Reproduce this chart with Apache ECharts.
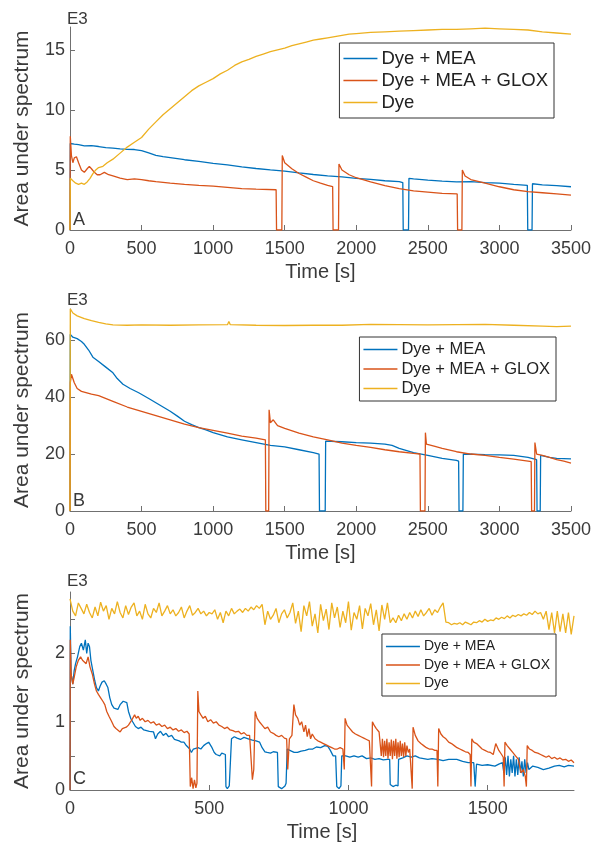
<!DOCTYPE html>
<html><head><meta charset="utf-8">
<script src="https://cdn.jsdelivr.net/npm/echarts@6/dist/echarts.min.js"></script>
<style>html,body{margin:0;padding:0;background:#fff}#c{width:594px;height:845px}</style>
</head><body><div id="c"></div>
<script>
const seriesNames = ['Dye + MEA', 'Dye + MEA + GLOX', 'Dye'];
const colors = ['#0072BD', '#D95319', '#EDB120'];
const ticksAB_x = [0, 500, 1000, 1500, 2000, 2500, 3000, 3500];
const ticksC_x = [0, 500, 1000, 1500];
const ticksA_y = [0, 5, 10, 15];
const ticksB_y = [0, 20, 40, 60];
const ticksC_y = [0, 0.5, 1, 1.5, 2, 2.5];
const labelsC_y = [0, 1, 2];

// Panel A
const A_mea = [[0,0],[2,7.2],[30,7.15],[60,7.1],[100,7.0],[150,7.02],[200,6.95],[250,6.85],[300,6.82],[350,6.75],[400,6.72],[450,6.7],[500,6.6],[550,6.42],[600,6.22],[650,6.1],[700,6.02],[800,5.85],[900,5.72],[1000,5.55],[1100,5.42],[1200,5.25],[1300,5.12],[1400,5.0],[1500,4.9],[1600,4.75],[1700,4.62],[1800,4.5],[1900,4.42],[2000,4.3],[2100,4.22],[2200,4.1],[2300,4.02],[2325,3.95],[2328,0],[2365,0],[2368,4.3],[2400,4.25],[2500,4.15],[2600,4.07],[2700,4.0],[2800,4.02],[2900,3.95],[3000,3.9],[3100,3.8],[3195,3.72],[3198,0],[3228,0],[3231,3.85],[3300,3.75],[3400,3.7],[3500,3.6]];
const A_glox = [[0,0],[2,7.8],[10,6.2],[20,5.6],[30,6.0],[45,6.1],[60,5.6],[80,5.0],[100,4.8],[120,5.1],[135,5.3],[150,5.1],[170,4.8],[190,4.6],[210,4.6],[240,4.8],[270,4.6],[300,4.5],[350,4.32],[400,4.2],[450,4.25],[500,4.2],[550,4.1],[600,4.02],[700,3.9],[800,3.8],[900,3.72],[1000,3.65],[1100,3.55],[1200,3.45],[1300,3.4],[1440,3.35],[1443,0],[1480,0],[1483,6.2],[1500,5.6],[1550,5.1],[1600,4.7],[1650,4.4],[1700,4.1],[1750,3.9],[1800,3.72],[1835,3.62],[1838,0],[1876,0],[1879,5.5],[1900,5.0],[1950,4.6],[2000,4.35],[2100,4.0],[2200,3.7],[2300,3.45],[2400,3.25],[2500,3.15],[2600,3.05],[2705,3.0],[2708,0],[2738,0],[2741,5.0],[2760,4.5],[2800,4.2],[2900,3.9],[3000,3.6],[3100,3.35],[3200,3.2],[3300,3.1],[3400,3.0],[3500,2.9]];
const A_dye = [[0,0],[2,4.3],[20,4.1],[40,3.9],[60,3.8],[80,3.9],[100,3.8],[120,4.0],[140,4.3],[160,4.7],[180,5.0],[200,5.2],[230,5.3],[260,5.6],[300,5.9],[350,6.4],[400,6.9],[450,7.3],[500,7.7],[550,8.4],[600,9.0],[650,9.6],[700,10.1],[750,10.6],[800,11.1],[850,11.6],[900,12.0],[950,12.3],[1000,12.6],[1050,13.0],[1100,13.3],[1150,13.7],[1200,14.0],[1250,14.2],[1300,14.45],[1350,14.65],[1400,14.85],[1450,15.0],[1500,15.15],[1550,15.35],[1600,15.5],[1650,15.65],[1700,15.8],[1750,15.9],[1800,16.0],[1850,16.1],[1900,16.2],[1950,16.3],[2000,16.35],[2100,16.45],[2200,16.5],[2300,16.55],[2400,16.6],[2500,16.65],[2600,16.7],[2700,16.7],[2800,16.75],[2900,16.8],[3000,16.75],[3100,16.7],[3200,16.65],[3300,16.5],[3400,16.4],[3500,16.3]];

// Panel B
const B_mea = [[0,0],[2,62],[20,61],[50,60.5],[80,59.5],[100,58.5],[130,56.5],[160,54],[200,52.5],[250,50.5],[300,48.5],[330,46.5],[370,44.5],[420,43],[480,41.5],[550,39.5],[600,38],[650,36.5],[700,35],[750,33.3],[800,31.5],[850,30.3],[900,29.3],[950,28.5],[1000,27.5],[1100,26],[1200,25],[1300,24],[1400,23],[1500,22.5],[1600,21.5],[1700,20.5],[1740,20],[1743,0],[1783,0],[1786,24.5],[1900,24.3],[2000,24],[2100,23.8],[2200,23.5],[2250,23],[2300,22],[2400,20.5],[2500,19.5],[2600,18.5],[2700,17.8],[2715,17.5],[2718,0],[2745,0],[2748,20],[2900,19.8],[3000,19.7],[3100,19.5],[3200,18.8],[3260,18],[3263,0],[3285,0],[3288,19.5],[3350,18.8],[3400,18.5],[3500,18.3]];
const B_glox = [[0,0],[2,45],[10,48],[30,45],[50,43],[80,42],[150,41],[200,40.5],[300,38.5],[400,36.5],[500,35],[600,33.5],[700,32],[800,30.5],[900,29.3],[1000,28.3],[1100,27.3],[1200,26.3],[1300,25.6],[1365,25],[1368,0],[1388,0],[1391,35.5],[1400,31],[1420,32],[1450,30],[1500,29],[1600,27.3],[1700,26],[1800,25],[1900,23.8],[2000,23],[2100,22.3],[2200,21.5],[2300,20.8],[2400,20.2],[2445,20],[2448,0],[2480,0],[2483,27.5],[2490,23.5],[2550,22.7],[2600,22],[2700,20.8],[2800,20],[2900,19.5],[3000,18.8],[3100,18.2],[3200,17.5],[3222,17.3],[3225,0],[3245,0],[3248,24],[3260,20],[3300,19.5],[3350,18.8],[3400,18],[3450,17.5],[3500,16.8]];
const B_dye = [[0,0],[2,71],[20,69.5],[50,68.5],[100,67.5],[150,66.8],[200,66.2],[250,65.7],[300,65.3],[400,65.2],[500,65.3],[700,65.2],[900,65.3],[1100,65.4],[1110,66.5],[1120,65.4],[1300,65.2],[1500,65.1],[1700,65.2],[1900,65.2],[2100,65.5],[2300,65.4],[2500,65.3],[2700,65.4],[2900,65.5],[3100,65.2],[3300,64.9],[3400,64.7],[3500,64.9]];

// Panel C
const C_mea = [[0,0],[1,2.4],[4,1.7],[10,1.55],[15,1.75],[20,1.85],[27,1.95],[35,2.1],[41,2.15],[48,2.05],[55,2.2],[60,2.0],[65,2.15],[70,2.1],[75,1.9],[82,1.75],[89,1.6],[95,1.5],[102,1.45],[108,1.52],[115,1.58],[123,1.6],[130,1.55],[136,1.5],[143,1.35],[150,1.25],[158,1.2],[164,1.22],[172,1.18],[180,1.25],[191,1.3],[198,1.32],[204,1.28],[210,1.15],[218,1.05],[225,1.0],[235,0.93],[245,0.9],[255,0.92],[265,0.88],[272,0.9],[285,0.86],[300,0.85],[307,0.75],[315,0.82],[325,0.86],[335,0.8],[345,0.83],[354,0.78],[365,0.8],[375,0.74],[381,0.76],[392,0.72],[400,0.7],[409,0.7],[416,0.66],[422,0.64],[430,0.6],[436,0.55],[443,0.6],[450,0.58],[460,0.62],[470,0.6],[480,0.65],[490,0.68],[498,0.7],[504,0.72],[510,0.62],[518,0.55],[525,0.52],[532,0.5],[538,0.5],[545,0.54],[552,0.55],[558,0.52],[560,0.05],[565,0.02],[572,0.06],[578,0.04],[580,0.75],[590,0.78],[600,0.76],[612,0.74],[625,0.77],[640,0.75],[655,0.73],[668,0.72],[681,0.7],[690,0.62],[700,0.56],[708,0.55],[720,0.54],[730,0.56],[745,0.55],[748,0.05],[760,0.02],[772,0.06],[776,0.1],[780,0.6],[795,0.57],[805,0.55],[817,0.55],[830,0.57],[845,0.58],[858,0.6],[872,0.6],[885,0.63],[900,0.62],[915,0.65],[926,0.64],[935,0.58],[945,0.5],[954,0.5],[958,0.05],[966,0.02],[973,0.06],[976,0.5],[990,0.5],[1005,0.48],[1020,0.5],[1035,0.48],[1049,0.5],[1065,0.46],[1080,0.47],[1095,0.45],[1110,0.46],[1125,0.44],[1140,0.45],[1148,0.45],[1150,0.08],[1160,0.05],[1170,0.07],[1178,0.06],[1180,0.45],[1195,0.47],[1210,0.5],[1225,0.48],[1240,0.5],[1255,0.47],[1270,0.46],[1285,0.45],[1300,0.46],[1321,0.45],[1340,0.43],[1360,0.45],[1389,0.45],[1410,0.42],[1430,0.4],[1450,0.4],[1455,0.05],[1460,0.38],[1480,0.36],[1500,0.37],[1526,0.35],[1540,0.38],[1553,0.4],[1558,0.25],[1563,0.48],[1568,0.22],[1573,0.5],[1578,0.2],[1583,0.45],[1588,0.25],[1593,0.5],[1598,0.2],[1603,0.45],[1608,0.22],[1613,0.48],[1618,0.25],[1623,0.42],[1628,0.2],[1633,0.45],[1638,0.25],[1643,0.4],[1648,0.3],[1662,0.35],[1680,0.33],[1700,0.3],[1720,0.32],[1740,0.35],[1757,0.36],[1775,0.34],[1790,0.36],[1810,0.35]];
const C_glox = [[0,0],[1,2.2],[4,1.7],[10,1.55],[15,1.65],[22,1.8],[30,1.9],[38,1.95],[45,1.9],[52,1.92],[58,1.85],[65,1.95],[72,1.8],[80,1.7],[88,1.55],[95,1.45],[102,1.4],[110,1.35],[118,1.3],[125,1.25],[132,1.15],[140,1.08],[150,1.0],[158,0.93],[165,0.9],[172,0.88],[180,0.85],[188,0.9],[195,0.88],[202,0.92],[210,0.95],[218,1.0],[225,1.05],[232,1.1],[238,1.05],[245,1.08],[252,1.02],[260,1.05],[270,1.0],[280,1.02],[290,0.98],[300,1.0],[310,0.95],[320,0.97],[330,0.93],[340,0.95],[350,0.9],[360,0.92],[370,0.88],[380,0.9],[390,0.86],[400,0.88],[410,0.84],[420,0.86],[428,0.82],[432,0.05],[437,0.18],[442,0.02],[447,0.15],[452,0.03],[456,0.1],[459,1.45],[463,1.15],[470,1.1],[478,1.05],[486,1.08],[495,1.0],[505,1.03],[515,0.98],[525,1.0],[535,0.95],[545,0.93],[555,0.9],[565,0.92],[575,0.88],[585,0.87],[595,0.85],[605,0.86],[615,0.82],[625,0.84],[635,0.8],[645,0.8],[652,0.78],[655,0.15],[660,0.3],[665,1.15],[672,1.05],[680,1.0],[690,0.95],[700,0.9],[710,0.92],[720,0.85],[730,0.83],[740,0.8],[750,0.78],[760,0.8],[770,0.76],[778,0.75],[782,0.3],[788,0.75],[797,0.8],[804,1.25],[810,1.1],[818,1.05],[825,0.95],[832,1.0],[840,0.85],[846,0.95],[852,0.78],[858,0.9],[864,0.75],[870,0.82],[880,0.75],[890,0.72],[900,0.7],[910,0.68],[920,0.66],[930,0.64],[940,0.62],[950,0.6],[960,0.6],[970,0.62],[980,0.6],[985,0.3],[988,1.05],[995,0.95],[1005,0.9],[1015,0.85],[1025,0.82],[1035,0.8],[1045,0.78],[1055,0.76],[1065,0.74],[1075,0.72],[1080,0.7],[1083,0.05],[1086,1.0],[1092,0.95],[1100,0.9],[1110,0.85],[1118,0.5],[1122,0.75],[1126,0.48],[1130,0.72],[1134,0.5],[1138,0.75],[1142,0.46],[1146,0.7],[1150,0.5],[1154,0.74],[1158,0.45],[1162,0.72],[1166,0.5],[1170,0.75],[1174,0.46],[1178,0.7],[1182,0.48],[1186,0.72],[1190,0.5],[1194,0.68],[1198,0.48],[1202,0.7],[1206,0.5],[1210,0.65],[1215,0.55],[1220,0.6],[1226,0.58],[1229,0.02],[1232,0.92],[1240,0.8],[1250,0.72],[1260,0.68],[1270,0.65],[1280,0.62],[1290,0.6],[1300,0.6],[1310,0.58],[1318,0.58],[1321,0.05],[1324,0.9],[1332,0.82],[1340,0.78],[1350,0.75],[1360,0.7],[1370,0.68],[1380,0.65],[1390,0.62],[1400,0.6],[1410,0.58],[1420,0.56],[1430,0.55],[1437,0.52],[1440,0.05],[1443,0.75],[1450,0.7],[1460,0.68],[1470,0.64],[1480,0.6],[1490,0.58],[1500,0.56],[1510,0.55],[1520,0.52],[1526,0.5],[1529,0.68],[1540,0.58],[1550,0.52],[1556,0.48],[1559,0.05],[1562,0.7],[1570,0.65],[1580,0.6],[1590,0.55],[1600,0.5],[1610,0.45],[1620,0.25],[1628,0.3],[1635,0.2],[1639,0.05],[1642,0.65],[1650,0.6],[1660,0.58],[1670,0.55],[1680,0.54],[1690,0.52],[1700,0.5],[1710,0.48],[1720,0.5],[1730,0.46],[1740,0.48],[1750,0.45],[1760,0.47],[1770,0.44],[1780,0.45],[1790,0.42],[1800,0.44],[1810,0.4]];
const C_dye_step = 10;
const C_dye_vals = [
  2.80,2.62,2.55,2.74,2.66,2.58,2.72,2.60,2.52,2.68,
  2.55,2.75,2.62,2.70,2.50,2.66,2.58,2.76,2.60,2.52,
  2.70,2.57,2.68,2.74,2.55,2.62,2.50,2.72,2.58,2.52,
  2.66,2.60,2.74,2.55,2.62,2.70,2.58,2.64,2.55,2.60,
  2.68,2.52,2.62,2.70,2.56,2.60,2.66,2.58,2.62,2.55,
  2.60,2.58,2.64,2.50,2.60,2.45,2.62,2.55,2.66,2.58,
  2.62,2.65,2.60,2.66,2.62,2.68,2.64,2.70,2.66,
  2.72,2.42,2.62,2.50,2.56,2.66,2.45,2.58,2.64,2.52,2.60,
  2.74,2.44,2.62,2.32,2.70,2.55,2.76,2.40,2.58,2.30,
  2.72,2.48,2.65,2.35,2.74,2.52,2.68,2.38,2.62,2.45,
  2.76,2.34,2.60,2.50,2.70,2.36,2.66,2.55,2.73,2.42,
  2.64,2.33,2.71,2.50,2.74,2.45,
  2.52,2.45,2.56,2.48,2.58,2.50,2.60,2.52,2.62,2.54,
  2.64,2.55,2.60,2.66,2.56,2.64,2.60,2.68,2.74,2.46,
  2.45,2.42,2.44,2.43,2.45,2.42,2.46,2.44,2.42,2.46,
  2.45,2.48,2.46,2.50,2.47,2.49,2.48,2.52,2.50,2.53,
  2.51,2.55,2.52,2.56,2.54,2.57,2.55,2.58,2.56,2.60,
  2.57,2.62,2.58,2.60,2.50,2.62,2.35,2.60,2.30,2.62,
  2.32,2.58,2.30,2.60,2.28,2.55];
const C_dye = C_dye_vals.map((v, i) => [i * C_dye_step, v]);

const FONT = '"Liberation Sans", Arial, Helvetica, sans-serif';
const AX = '#707070', TXT = '#3a3a3a';

const panels = [
  {top: 27, height: 203, xmax: 3500, xticks: ticksAB_x, ymax: 16.9, yticks: ticksA_y, ylabels: ticksA_y, data: [A_mea, A_glox, A_dye],
   legend: {right: 40, top: 43, fs: 18.5, lh: 19, gap: 3, pad: [6, 6, 6, 4]}, letter: 'A', letterY: 211, e3Y: 11},
  {top: 309, height: 202, xmax: 3500, xticks: ticksAB_x, ymax: 70.9, yticks: ticksB_y, ylabels: ticksB_y, data: [B_mea, B_glox, B_dye],
   legend: {right: 38, top: 337, fs: 16.5, lh: 16.5, gap: 2.5, pad: [4, 6, 4, 4]}, letter: 'B', letterY: 492, e3Y: 292},
  {top: 592, height: 198, xmax: 1810, xticks: ticksC_x, ymax: 2.9, yticks: ticksC_y, ylabels: labelsC_y, data: [C_mea, C_glox, C_dye],
   legend: {right: 38, top: 634, fs: 14, lh: 15, gap: 3.5, pad: [5, 6, 5, 4]}, letter: 'C', letterY: 770, e3Y: 573}
];

const option = {
  backgroundColor: '#fff',
  animation: false,
  textStyle: {fontFamily: FONT},
  grid: [], xAxis: [], yAxis: [], series: [], legend: [], graphic: []
};

panels.forEach((p, k) => {
  option.grid.push({left: 70, right: 20, top: p.top, height: p.height});
  option.xAxis.push({
    type: 'value', gridIndex: k, min: 0, max: p.xmax,
    axisLine: {lineStyle: {color: AX, width: 1}},
    axisTick: {inside: true, length: 5, customValues: p.xticks, lineStyle: {color: AX}},
    axisLabel: {customValues: p.xticks, formatter: v => String(v), color: TXT, fontSize: 18, margin: 10, fontFamily: FONT},
    splitLine: {show: false},
    name: 'Time [s]', nameLocation: 'middle', nameGap: 32,
    nameTextStyle: {fontSize: 20, color: TXT, fontFamily: FONT}
  });
  option.yAxis.push({
    type: 'value', gridIndex: k, min: 0, max: p.ymax,
    axisLine: {show: true, lineStyle: {color: AX, width: 1}},
    axisTick: {show: true, inside: true, length: 5, customValues: p.yticks, lineStyle: {color: AX}},
    axisLabel: {customValues: p.ylabels, formatter: v => String(v), color: TXT, fontSize: 18, margin: 5, fontFamily: FONT},
    splitLine: {show: false},
    name: 'Area under spectrum', nameLocation: 'middle', nameGap: 37,
    nameTextStyle: {fontSize: 21, color: TXT, fontFamily: FONT}
  });
  p.data.forEach((d, s) => {
    option.series.push({
      type: 'line', name: seriesNames[s], xAxisIndex: k, yAxisIndex: k,
      data: d, symbol: 'none', color: colors[s],
      lineStyle: {width: 1.3, color: colors[s]}, z: 2 + s
    });
  });
  option.legend.push({
    orient: 'vertical', right: p.legend.right, top: p.legend.top,
    data: seriesNames, icon: 'rect', itemWidth: 34, itemHeight: 1.4, itemGap: p.legend.gap,
    padding: p.legend.pad, borderColor: '#333', borderWidth: 1, backgroundColor: '#fff',
    textStyle: {fontSize: p.legend.fs, lineHeight: p.legend.lh, color: '#222', fontFamily: FONT, padding: [0, 0, 0, -1]},
    selectedMode: false, z: 10
  });
  option.graphic.push({type: 'text', left: 67, top: p.e3Y, style: {text: 'E3', font: '17px ' + FONT, fill: TXT}, z: 20});
  option.graphic.push({type: 'text', left: 73, top: p.letterY, style: {text: p.letter, font: '18px ' + FONT, fill: TXT}, z: 20});
});

const chart = echarts.init(document.getElementById('c'), null, {renderer: 'canvas'});
chart.setOption(option);
</script></body></html>
